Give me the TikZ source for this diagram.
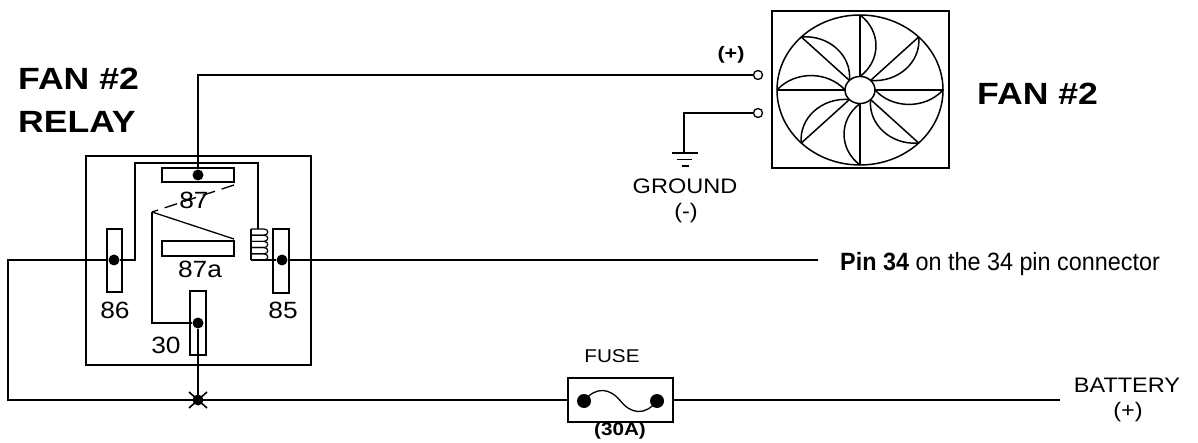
\documentclass[tikz,border=0pt]{standalone}
\usepackage{fontspec}
\setmainfont{Liberation Sans}
\begin{document}
\begin{tikzpicture}[x=1pt,y=-1pt,
  wire/.style={line width=1.3pt},
  pinbox/.style={draw,line width=1.3pt,inner sep=0pt},
  dot/.style={circle,fill=black,inner sep=0pt,minimum size=11pt},
  fdot/.style={circle,fill=black,inner sep=0pt,minimum size=14pt},
  term/.style={circle,draw,fill=white,line width=1.3pt,inner sep=0pt,minimum size=9pt},
  pinlbl/.style={inner sep=0pt,font=\fontsize{23.5}{23.5}\selectfont,xscale=1.12},
  head/.style={inner sep=0pt,font=\fontsize{30.7}{31}\selectfont\bfseries,xscale=1.16,anchor=west},
  txt/.style={inner sep=0pt,font=\fontsize{21}{21}\selectfont,xscale=1.12},
]
\fill[white] (0,0) rectangle (1198,443);
\useasboundingbox (0,0) rectangle (1198,443);

% headings
\node[head] (h1) at (18,79) {FAN \#2};
\node[head] (h2) at (18,121.5) {RELAY};
\node[head] (h3) at (977,94) {FAN \#2};

% relay box
\node[draw,line width=1.3pt,minimum width=225pt,minimum height=209pt,inner sep=0pt] (relay) at (198.5,260.5) {};

% pins
\node[pinbox,minimum width=72pt,minimum height=14pt] (p87) at (198,175) {};
\node[pinbox,minimum width=72pt,minimum height=15pt] (p87a) at (198,248.5) {};
\node[pinbox,minimum width=15pt,minimum height=63pt] (p86) at (114.5,260.5) {};
\node[pinbox,minimum width=16pt,minimum height=64pt] (p85) at (281,261) {};
\node[pinbox,minimum width=16pt,minimum height=64pt] (p30) at (198,323) {};

\node[dot] (d87) at (198,175) {};
\node[dot] (d86) at (114,260) {};
\node[dot] (d85) at (282,260) {};
\node[dot] (d30) at (198,323) {};

% pin labels
\node[pinlbl] (l87) at (194,200) {87};
\node[pinlbl] (l87a) at (200,269) {87a};
\node[pinlbl] (l86) at (115,310) {86};
\node[pinlbl] (l85) at (283,310) {85};
\node[pinlbl] (l30) at (166,345) {30};

% internal relay wiring
\coordinate (arm) at (152,212);
\coordinate (armS) at (234,239);
\coordinate (armD) at (234,185);
\draw[wire] (arm) -- (armS);
\draw[wire,dash pattern=on 13pt off 7pt] (armD) -- (arm);
\draw[wire] (arm) -- (152,323) -- (d30);
\draw[wire] (d86) -- (135,260) -- (135,163) -- (258,163) -- (258,229);
% coil
\draw[wire] (251,229) -- (251,260);
\foreach \i in {0,...,4}{
  \pgfmathsetmacro{\ya}{229+6.2*\i}
  \pgfmathsetmacro{\yb}{\ya+6.2}
  \draw[line width=1.2pt] (251,\ya) -- (264,\ya) .. controls (269,\ya) and (269,\yb) .. (264,\yb) -- (251,\yb);
}
\draw[wire] (251,260) -- (d85);

% fan
\node[draw,line width=1.3pt,minimum width=177pt,minimum height=157pt,inner sep=0pt] (fan) at (860.5,89.5) {};
\begin{scope}[shift={(860,90)},yscale=0.9036]
  \draw[line width=1.5pt] (0,0) circle (83);
  \draw[line width=1.5pt] (0,0) circle (15);
  \foreach \a in {0,45,...,315}{
    \begin{scope}[rotate=\a]
      \draw[line width=1.5pt] (15,0) -- (83,0);
      \draw[line width=1.5pt] (83,0) .. controls (65.4,21.3) and (32.6,21.3) .. (15,0);
    \end{scope}
  }
\end{scope}

% fan terminals
\node[term] (tp) at (758,75) {};
\node[term] (tg) at (758,113) {};
\node[inner sep=0pt,font=\fontsize{18}{18}\selectfont\bfseries,xscale=1.2] (plus) at (731,55) {(+)};
\draw[wire] (d87) |- (tp);
\coordinate (gnd) at (684,153);
\draw[wire] (tg) -| (gnd);
\draw[wire] (672,153) -- (698,153);
\draw[wire] (677,159.5) -- (692,159.5);
\draw[wire] (681.5,166) -- (688.5,166);
\node[txt] (ground) at (685,186) {GROUND};
\node[txt] (minus) at (686,213) {(-)};

% pin 34 wire
\coordinate (p34) at (818,260);
\draw[wire] (d85) -- (p34);
\node[inner sep=0pt,anchor=base west,font=\fontsize{25}{25}\selectfont,xscale=0.935] (pin34) at (840,271) {\textbf{Pin 34} on the 34 pin connector};

% bottom circuit
\node[draw,line width=1.3pt,minimum width=105pt,minimum height=44pt,inner sep=0pt] (fuse) at (620.5,400) {};
\node[fdot] (fd1) at (584,401) {};
\node[fdot] (fd2) at (657,401) {};
\draw[line width=1.3pt] (fd1.center) .. controls (596,386) and (610,388) .. (620.5,401) .. controls (631,414) and (645,416) .. (fd2.center);
\node[txt,font=\fontsize{18.5}{18.5}\selectfont] (fuselbl) at (612,356) {FUSE};
\node[inner sep=0pt,font=\fontsize{18}{18}\selectfont\bfseries,xscale=1.15] (amp) at (620,431) {(30A)};

\coordinate (J) at (198,400);
\coordinate (bat) at (1060,400);
\draw[wire] (d86) -- (8,260) |- (fuse.west);
\draw[wire] (d30) -- (J);
\draw[wire] (fuse.east) -- (bat);
\fill (J) circle (5.5);
\draw[line width=1.6pt] (189,392) -- (207,408) (189,408) -- (207,392);

\node[txt] (battery) at (1127,385.5) {BATTERY};
\node[txt] (bplus) at (1128,412) {(+)};
\end{tikzpicture}
\end{document}
